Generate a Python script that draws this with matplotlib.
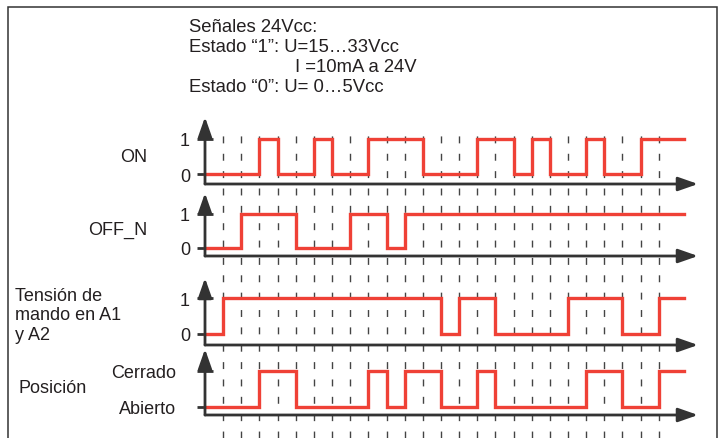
import numpy as np
import matplotlib.pyplot as plt
from matplotlib.patches import Rectangle

W, H = 719, 439

# time slots marked by the dashed lines, end of the drawn signals
slots = np.arange(1, 26)
t_end = 26.4

# signals: switching times and the level held from each time on
on_t = [0, 3, 4, 6, 7, 9, 12, 15, 17, 18, 19, 21, 22, 24, t_end]
on_v = [0, 1, 0, 1, 0, 1, 0, 1, 0, 1, 0, 1, 0, 1, 1]
off_t = [0, 2, 5, 8, 10, 11, t_end]
off_v = [0, 1, 0, 1, 0, 1, 1]
ten_t = [0, 1, 13, 14, 16, 20, 23, 25, t_end]
ten_v = [0, 1, 0, 1, 0, 1, 0, 1, 1]
pos_t = [0, 3, 5, 9, 10, 11, 13, 15, 16, 21, 23, 25, t_end]
pos_v = [0, 1, 0, 1, 0, 1, 0, 1, 0, 1, 0, 1, 1]

bit_labels = ['0', '1']
pos_labels = ['Abierto', 'Cerrado']

header = ['Señales 24Vcc:',
          'Estado \u201c1\u201d: U=15\u202633Vcc',
          'I =10mA a 24V',
          'Estado \u201c0\u201d: U= 0\u20265Vcc']

plt.rcParams['font.family'] = ['Liberation Sans', 'DejaVu Sans']
plt.rcParams['font.size'] = 13

RED = '#ef4136'
INK = '#333333'
TXT = '#231f20'

x_axis, px_t = 205, 18.15
x_tip = 698
t_max = (x_tip - x_axis) / px_t

fig = plt.figure(figsize=(W / 100, H / 100), dpi=100)


def rect(left, top, right, bottom):
    # pixel box -> figure fraction
    return [left / W, 1 - bottom / H, (right - left) / W, (bottom - top) / H]


# dashed time grid behind everything
grid = fig.add_axes(rect(x_axis, 130, x_tip, H))
grid.set_xlim(0, t_max)
grid.axis('off')
for k in slots:
    grid.axvline(k, color='#444444', lw=1.0, ls=(0, (5, 7.5)))

# (times, values, tick labels, arrow top, level 1, level 0, base, label pad)
panels = [
    (on_t, on_v, bit_labels, 118, 140, 175, 185, 5),
    (off_t, off_v, bit_labels, 194, 215, 249, 257, 5),
    (ten_t, ten_v, bit_labels, 279, 299, 335, 346, 5),
    (pos_t, pos_v, pos_labels, 350, 372, 408, 416, 15),
]

arrow = dict(arrowstyle='-|>,head_length=1.2,head_width=0.42', mutation_scale=10,
             color=INK, lw=2, shrinkA=0, shrinkB=0)

for t, v, labels, top, y1, y0, base, pad in panels:
    ax = fig.add_axes(rect(x_axis, top, x_tip, base))
    ax.patch.set_alpha(0)
    s = 1 / (y0 - y1)
    ax.set_ylim(-(base - y0) * s, 1 + (y1 - top) * s)
    ax.set_xlim(0, t_max)
    for sp in ax.spines.values():
        sp.set_visible(False)
    ax.set_xticks([])
    ax.set_yticks([0, 1], labels)
    ax.tick_params(axis='y', direction='inout', length=11.5, width=2, color=INK,
                   pad=pad, labelsize=13, labelcolor=TXT)
    ax.step(t, v, where='post', color=RED, lw=2.4, solid_joinstyle='miter',
            clip_on=False, zorder=3)
    ax.annotate('', xy=(0, 1), xytext=(0, 0), xycoords='axes fraction', arrowprops=arrow)
    ax.annotate('', xy=(1, 0), xytext=(0, 0), xycoords='axes fraction', arrowprops=arrow)

# header text
for i, line in enumerate(header):
    x = 295 if i == 2 else 189
    fig.text(x / W, 1 - (28 + 20 * i) / H, line, ha='left', va='center', color=TXT,
             fontsize=13.3)

# signal names on the left
fig.text(147 / W, 1 - 158 / H, 'ON', ha='right', va='center', color=TXT)
fig.text(147 / W, 1 - 230 / H, 'OFF_N', ha='right', va='center', color=TXT)
fig.text(15 / W, 1 - 316 / H, 'Tensión de\nmando en A1\ny A2', ha='left', va='center',
         linespacing=1.2, color=TXT)
fig.text(18 / W, 1 - 389 / H, 'Posición', ha='left', va='center', color=TXT)

# outer frame, bottom edge runs off the picture
fig.add_artist(Rectangle((8 / W, -0.1), (717 - 8) / W, 1.1 - 8 / H, transform=fig.transFigure,
                         fill=False, lw=1.1, ec=INK))

fig.savefig('out.png', dpi=100)
